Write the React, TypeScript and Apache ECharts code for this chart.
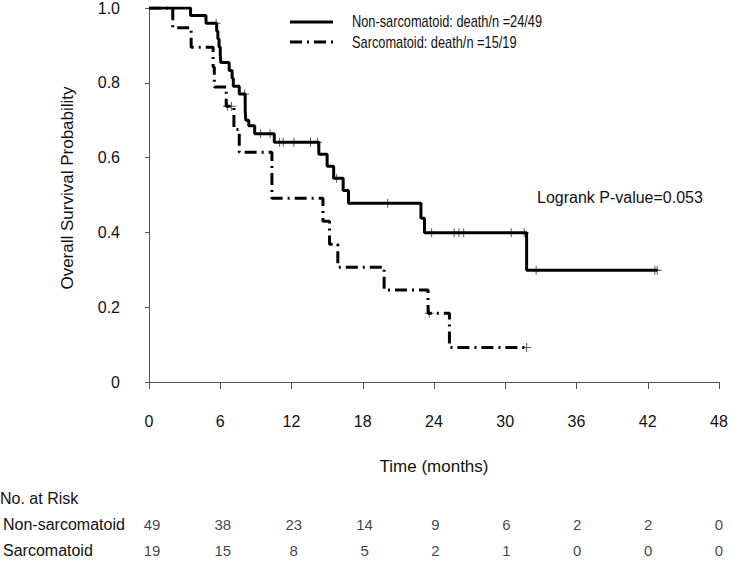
import React, { useEffect, useRef } from 'react';
import * as echarts from 'echarts';

// Kaplan-Meier step data (time in months, survival probability)
const nonSarcTimes = [0, 3.5, 4.8, 5.7, 5.8, 5.9, 6.0, 6.05, 6.75, 7.0, 7.1, 7.6, 8.1, 8.15, 8.4, 8.9, 10.55, 14.3, 15.0, 15.55, 16.35, 16.8, 22.9, 23.2, 31.8, 42.8];
const nonSarcSurv = [1, 0.98, 0.959, 0.938, 0.917, 0.896, 0.875, 0.854, 0.833, 0.812, 0.791, 0.77, 0.727, 0.7, 0.685, 0.664, 0.641, 0.609, 0.577, 0.545, 0.512, 0.478, 0.438, 0.399, 0.299, 0.299];
const nonSarcCensor = [5.65, 8.05, 9.4, 10.2, 11.0, 11.3, 12.2, 13.6, 14.2, 15.8, 20.1, 23.8, 25.7, 26.1, 26.5, 30.5, 31.6, 32.6, 42.6, 42.8];

const sarcTimes = [0, 2.0, 3.55, 5.4, 5.5, 6.5, 7.15, 7.6, 10.35, 14.65, 15.2, 15.9, 19.8, 23.5, 25.3, 31.8];
const sarcSurv = [1, 0.947, 0.895, 0.842, 0.789, 0.737, 0.675, 0.614, 0.491, 0.43, 0.368, 0.307, 0.246, 0.184, 0.092, 0.092];
const sarcCensor = [6.6, 6.95, 23.6, 31.8];

const xTicks = [0, 6, 12, 18, 24, 30, 36, 42, 48];
const riskGroups = ['Non-sarcomatoid', 'Sarcomatoid'];
const riskNonSarc = [49, 38, 23, 14, 9, 6, 2, 2, 0];
const riskSarc = [19, 15, 8, 5, 2, 1, 0, 0, 0];
const legendLabels = ['Non-sarcomatoid: death/n =24/49', 'Sarcomatoid: death/n =15/19'];
const pValueText = 'Logrank P-value=0.053';
const yTitle = 'Overall Survival Probability';
const xTitle = 'Time (months)';
const riskTitle = 'No. at Risk';

const FONT = 'Liberation Sans, Arial, sans-serif';
const DASHDOT = [12, 5, 2, 5];

function survAt(times: number[], surv: number[], t: number) {
  let v = surv[0];
  for (let i = 0; i < times.length; i++) {
    if (times[i] <= t) v = surv[i];
  }
  return v;
}

const PLUS = 'path://M4,0H5V4H9V5H5V9H4V5H0V4H4Z';

export default function App() {
  const ref = useRef<HTMLDivElement>(null);
  useEffect(() => {
    if (!ref.current) return;
    const chart = echarts.init(ref.current, null, { renderer: 'svg' });
    const riskData: any[] = [];
    xTicks.forEach((t, i) => {
      riskData.push([t, riskGroups[0], riskNonSarc[i]]);
      riskData.push([t, riskGroups[1], riskSarc[i]]);
    });
    chart.setOption({
      animation: false,
      backgroundColor: '#fff',
      grid: [
        { left: 149, right: 14, top: 5, height: 377 },
        { left: 149, right: 14, top: 511, height: 54 },
      ],
      xAxis: [
        {
          type: 'value', gridIndex: 0, min: 0, max: 48, interval: 6, offset: 15,
          axisLine: { show: true, lineStyle: { color: '#555', width: 1 } },
          axisTick: { show: true, length: 7, lineStyle: { color: '#555' } },
          axisLabel: { fontFamily: FONT, fontSize: 16, color: '#111', margin: 16 },
          splitLine: { show: false },
        },
        { type: 'value', gridIndex: 1, min: 0, max: 48, show: false },
      ],
      yAxis: [
        {
          type: 'value', gridIndex: 0, min: 0, max: 1, interval: 0.2, offset: 23,
          axisLine: { show: true, lineStyle: { color: '#555', width: 1 } },
          axisTick: { show: true, length: 4, lineStyle: { color: '#555' } },
          axisLabel: {
            fontFamily: FONT, fontSize: 16, color: '#111', margin: 6,
            formatter: (v: number) => (v === 0 ? '0' : v.toFixed(1)),
          },
          splitLine: { show: false },
        },
        {
          type: 'category', gridIndex: 1, data: riskGroups, inverse: true,
          axisLine: { show: false }, axisTick: { show: false },
          axisLabel: { align: 'left', margin: 149, fontFamily: FONT, fontSize: 16, color: '#111' },
        },
      ],
      graphic: [
        { type: 'text', x: 67, y: 188, rotation: Math.PI / 2, style: { text: yTitle, fontFamily: FONT, fontSize: 17, fill: '#111', align: 'center', verticalAlign: 'middle' } },
        { type: 'text', x: 434, y: 466, style: { text: xTitle, fontFamily: FONT, fontSize: 17, fill: '#111', align: 'center', verticalAlign: 'middle' } },
        { type: 'line', shape: { x1: 290, y1: 22, x2: 333, y2: 22 }, style: { stroke: '#000', lineWidth: 3 } },
        { type: 'line', shape: { x1: 290, y1: 42, x2: 333, y2: 42 }, style: { stroke: '#000', lineWidth: 3, lineDash: DASHDOT } },
        { type: 'text', x: 352, y: 21, scaleX: 0.8, style: { text: legendLabels[0], fontFamily: FONT, fontSize: 16, fill: '#111', verticalAlign: 'middle' } },
        { type: 'text', x: 352, y: 42, scaleX: 0.8, style: { text: legendLabels[1], fontFamily: FONT, fontSize: 16, fill: '#111', verticalAlign: 'middle' } },
        { type: 'text', x: 537, y: 197, style: { text: pValueText, fontFamily: FONT, fontSize: 16, fill: '#111', verticalAlign: 'middle' } },
        { type: 'text', x: 0, y: 498, style: { text: riskTitle, fontFamily: FONT, fontSize: 16, fill: '#111', verticalAlign: 'middle' } },
      ],
      series: [
        {
          type: 'line', step: 'end', xAxisIndex: 0, yAxisIndex: 0, symbol: 'none',
          data: nonSarcTimes.map((t, i) => [t, nonSarcSurv[i]]),
          lineStyle: { color: '#000', width: 3 },
        },
        {
          type: 'line', step: 'end', xAxisIndex: 0, yAxisIndex: 0, symbol: 'none',
          data: sarcTimes.map((t, i) => [t, sarcSurv[i]]),
          lineStyle: { color: '#000', width: 3, type: DASHDOT },
        },
        {
          type: 'scatter', xAxisIndex: 0, yAxisIndex: 0, symbol: PLUS, symbolSize: [9, 9],
          data: nonSarcCensor.map((t) => [t, survAt(nonSarcTimes, nonSarcSurv, t)]),
          itemStyle: { color: '#333' },
        },
        {
          type: 'scatter', xAxisIndex: 0, yAxisIndex: 0, symbol: PLUS, symbolSize: [9, 9],
          data: sarcCensor.map((t) => [t, survAt(sarcTimes, sarcSurv, t)]),
          itemStyle: { color: '#333' },
        },
        {
          type: 'scatter', xAxisIndex: 1, yAxisIndex: 1, symbolSize: 1,
          itemStyle: { color: 'rgba(0,0,0,0)' },
          data: riskData,
          label: {
            show: true, position: 'inside', fontFamily: FONT, fontSize: 15, color: '#111',
            formatter: (p: any) => String(p.value[2]),
          },
        },
      ],
    });
    return () => chart.dispose();
  }, []);
  return <div ref={ref} style={{ position: 'absolute', left: 0, top: 0, width: 733, height: 564 }} />;
}
